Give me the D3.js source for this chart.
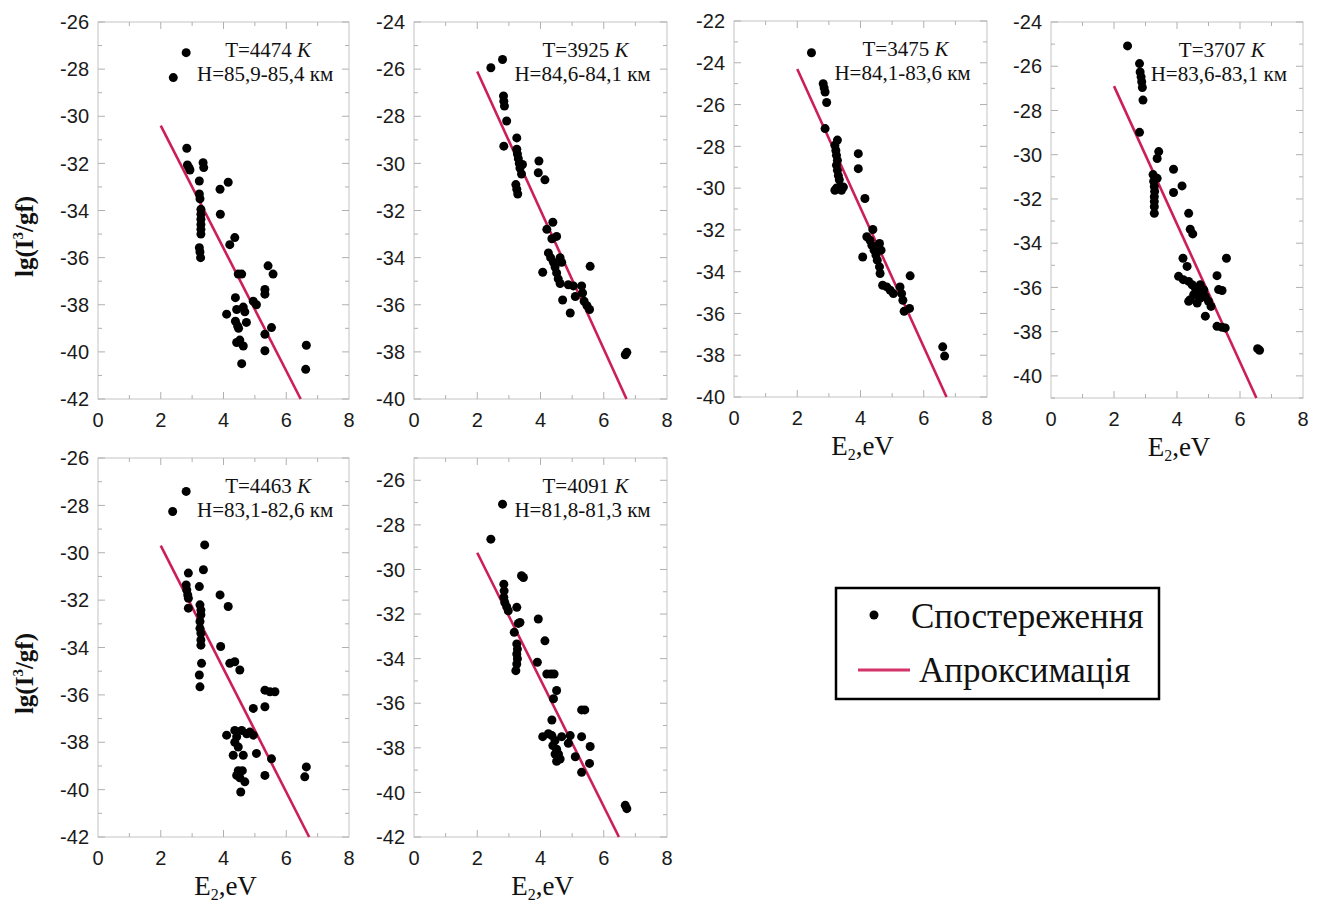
<!DOCTYPE html>
<html>
<head>
<meta charset="utf-8">
<script src="https://cdn.jsdelivr.net/npm/d3@7"></script>
<style>
  body { margin: 0; background: #fff; }
  svg { display: block; }
  .tick-label { font-family: "Liberation Sans", Arial, sans-serif; font-size: 20px; fill: #1a1a1a; }
  .note { font-family: "Liberation Serif", "Times New Roman", serif; font-size: 21px; fill: #111; }
  .title { font-family: "Liberation Serif", "Times New Roman", serif; fill: #111; }
</style>
</head>
<body>
<svg id="chart" width="1320" height="906"></svg>
<script>
// observations, [E2 (eV), lg(I^3/gf)]
var obs1 = [[2.81,-27.3],[2.40,-28.36],[2.83,-31.36],[2.85,-32.07],[2.9,-32.18],[2.93,-32.28],
  [3.23,-32.75],[3.23,-33.3],[3.25,-33.5],[3.28,-33.95],[3.28,-34.16],[3.28,-34.37],[3.28,-34.59],
  [3.28,-34.8],[3.28,-35.0],[3.23,-35.58],[3.25,-35.76],[3.27,-36.0],[3.35,-31.97],[3.37,-32.18],
  [3.89,-33.1],[4.15,-32.8],[3.9,-34.16],[4.2,-35.45],[4.36,-35.15],[4.47,-36.7],[4.58,-36.7],
  [4.1,-38.4],[4.38,-37.7],[4.42,-38.2],[4.38,-38.7],[4.45,-38.9],[4.48,-39.0],[4.63,-38.1],
  [4.68,-38.3],[4.73,-38.75],[4.52,-39.5],[4.63,-39.75],[4.42,-39.6],[4.58,-40.5],[4.95,-37.85],
  [5.05,-38.0],[5.32,-39.95],[5.32,-39.25],[5.32,-37.35],[5.32,-37.55],[5.53,-38.97],[5.42,-36.35],
  [5.58,-36.7],[6.64,-39.72],[6.62,-40.74]];
var obs2 = [[2.43,-25.94],[2.8,-25.59],[2.83,-27.14],[2.84,-27.36],[2.86,-27.57],[2.93,-28.2],
  [2.84,-29.27],[3.25,-28.92],[3.25,-29.4],[3.27,-29.6],[3.3,-29.8],[3.33,-30.0],[3.35,-30.2],
  [3.4,-30.45],[3.22,-30.9],[3.25,-31.1],[3.28,-31.3],[3.43,-30.05],[3.95,-29.9],[3.93,-30.4],
  [4.14,-30.7],[4.2,-32.8],[4.39,-32.5],[4.36,-33.2],[4.51,-33.1],[4.25,-33.8],[4.32,-34.0],
  [4.41,-34.2],[4.46,-34.4],[4.51,-34.65],[4.56,-34.9],[4.62,-35.1],[4.62,-34.0],[4.67,-34.2],
  [4.07,-34.62],[4.7,-35.8],[4.94,-36.35],[4.88,-35.15],[5.04,-35.2],[5.1,-35.65],[5.3,-35.2],
  [5.33,-35.5],[5.38,-35.85],[5.47,-36.04],[5.55,-36.2],[5.57,-34.37],[6.68,-38.12],[6.73,-38.02]];
var obs3 = [[2.45,-23.52],[2.82,-25.0],[2.85,-25.2],[2.88,-25.4],[2.93,-25.9],[2.88,-27.15],
  [3.27,-27.7],[3.19,-27.95],[3.22,-28.2],[3.24,-28.43],[3.27,-28.67],[3.24,-28.9],[3.27,-29.15],
  [3.3,-29.4],[3.33,-29.6],[3.35,-29.95],[3.4,-30.1],[3.19,-30.1],[3.24,-30.0],[3.46,-29.95],
  [3.93,-28.35],[3.93,-29.07],[4.14,-30.5],[4.07,-33.3],[4.2,-32.33],[4.39,-31.98],[4.3,-32.5],
  [4.36,-32.74],[4.43,-32.97],[4.49,-33.21],[4.53,-33.45],[4.6,-33.77],[4.62,-34.09],[4.6,-32.65],
  [4.65,-32.97],[4.7,-34.65],[4.83,-34.73],[4.94,-34.89],[5.04,-35.05],[5.25,-34.73],[5.3,-35.05],
  [5.34,-35.37],[5.38,-35.9],[5.55,-35.76],[5.57,-34.2],[6.6,-37.6],[6.66,-38.04]];
var obs4 = [[2.43,-25.08],[2.81,-25.88],[2.83,-26.26],[2.86,-26.48],[2.88,-26.7],[2.9,-26.96],
  [2.92,-27.53],[2.81,-28.99],[3.24,-30.9],[3.26,-31.2],[3.28,-31.44],[3.29,-31.66],[3.28,-31.9],
  [3.28,-32.12],[3.28,-32.35],[3.28,-32.65],[3.37,-31.07],[3.37,-30.17],[3.42,-29.86],[3.89,-30.66],
  [3.89,-31.71],[4.16,-31.41],[4.37,-32.65],[4.42,-33.37],[4.5,-33.58],[4.19,-34.68],[4.32,-35.05],
  [4.05,-35.5],[4.2,-35.65],[4.37,-35.73],[4.48,-35.88],[4.58,-36.03],[4.66,-36.26],[4.74,-36.48],
  [4.85,-36.11],[4.9,-36.41],[4.53,-36.33],[4.42,-36.56],[4.64,-36.71],[4.74,-35.88],[4.37,-36.63],
  [4.9,-37.3],[5.0,-36.63],[5.08,-36.86],[5.27,-35.47],[5.32,-36.1],[5.43,-36.14],[5.27,-37.76],
  [5.43,-37.8],[5.53,-37.83],[5.57,-34.68],[6.56,-38.77],[6.62,-38.84]];
var obs5 = [[2.38,-28.26],[2.81,-27.41],[2.88,-30.86],[2.81,-31.36],[2.83,-31.57],[2.86,-31.78],
  [2.88,-31.92],[2.88,-32.34],[3.23,-31.43],[3.25,-32.2],[3.28,-32.42],[3.28,-32.62],[3.25,-32.9],
  [3.25,-33.19],[3.28,-33.4],[3.28,-33.68],[3.28,-33.9],[3.3,-34.67],[3.23,-35.16],[3.25,-35.66],
  [3.36,-30.72],[3.4,-29.67],[3.89,-31.78],[4.15,-32.27],[3.91,-33.96],[4.2,-34.67],[4.36,-34.6],
  [4.52,-34.95],[4.95,-36.57],[5.32,-35.8],[5.48,-35.87],[5.64,-35.87],[5.32,-36.5],[4.1,-37.7],
  [4.36,-37.5],[4.42,-37.77],[4.36,-38.0],[4.47,-38.2],[4.31,-38.55],[4.58,-37.5],[4.74,-37.64],
  [4.84,-37.57],[4.95,-37.7],[4.63,-38.55],[5.05,-38.47],[5.53,-38.7],[4.47,-39.2],[4.6,-39.2],
  [4.52,-39.5],[4.42,-39.4],[4.68,-39.67],[4.55,-40.1],[5.32,-39.4],[6.59,-39.46],[6.64,-39.04]];
var obs6 = [[2.8,-27.07],[2.43,-28.64],[2.84,-30.66],[2.85,-30.96],[2.84,-31.25],[2.87,-31.48],
  [2.93,-31.67],[2.98,-31.85],[3.25,-31.7],[3.17,-32.82],[3.3,-32.42],[3.35,-32.38],[3.4,-30.28],
  [3.46,-30.36],[3.25,-33.34],[3.27,-33.57],[3.25,-33.79],[3.27,-34.0],[3.25,-34.24],[3.22,-34.54],
  [3.93,-32.22],[4.14,-33.2],[3.9,-34.16],[4.2,-34.69],[4.33,-34.69],[4.43,-34.69],[4.51,-35.43],
  [4.41,-35.8],[4.36,-36.75],[4.07,-37.5],[4.25,-37.37],[4.36,-37.45],[4.46,-37.67],[4.39,-37.9],
  [4.51,-38.06],[4.57,-38.28],[4.62,-38.5],[4.46,-38.28],[4.51,-38.6],[4.67,-37.5],[4.94,-37.45],
  [4.88,-37.8],[5.1,-38.4],[5.3,-37.5],[5.3,-39.1],[5.57,-37.94],[5.55,-38.7],[5.3,-36.3],
  [5.4,-36.3],[6.68,-40.58],[6.73,-40.73]];

// approximation lines, end points [E2, lg]
var fit1 = [[2, -30.4], [6.46, -42]];
var fit2 = [[2, -26.1], [6.72, -40]];
var fit3 = [[2, -24.3], [6.72, -40]];
var fit4 = [[2, -26.9], [6.52, -41]];
var fit5 = [[2, -29.7], [6.73, -42]];
var fit6 = [[2, -29.25], [6.48, -42]];

var temps = ['4474', '3925', '3475', '3707', '4463', '4091'];
var heights = ['85,9-85,4', '84,6-84,1', '84,1-83,6', '83,6-83,1', '83,1-82,6', '81,8-81,3'];
var yDomains = [[-42, -26], [-40, -24], [-40, -22], [-41, -24], [-42, -26], [-42, -25]];
var xTicks = [0, 2, 4, 6, 8];
var legendLabels = ['Спостереження', 'Апроксимація'];

var lineColor = '#cc1f58';
var svg = d3.select('#chart');

var boxes = [
  { x0: 98, x1: 349, y0: 22, y1: 399, ylab: true, xlab: false },
  { x0: 414, x1: 667, y0: 22, y1: 399, ylab: false, xlab: false },
  { x0: 734, x1: 987, y0: 21, y1: 397, ylab: false, xlab: true },
  { x0: 1051, x1: 1303, y0: 22, y1: 398, ylab: false, xlab: true },
  { x0: 98, x1: 349, y0: 458, y1: 837, ylab: true, xlab: true },
  { x0: 414, x1: 667, y0: 458, y1: 837, ylab: false, xlab: true }
];
var observations = [obs1, obs2, obs3, obs4, obs5, obs6];
var fits = [fit1, fit2, fit3, fit4, fit5, fit6];

boxes.forEach(function(b, i) {
  var x = d3.scaleLinear().domain([0, 8]).range([b.x0, b.x1]),
      y = d3.scaleLinear().domain(yDomains[i]).range([b.y1, b.y0]),
      g = svg.append('g'),
      yMajor = d3.range(Math.ceil(yDomains[i][0] / 2) * 2, yDomains[i][1] + 0.01, 2),
      yMinor = d3.range(yDomains[i][0], yDomains[i][1] + 0.01, 1);

  g.append('rect')
    .attr('x', b.x0).attr('y', b.y0)
    .attr('width', b.x1 - b.x0).attr('height', b.y1 - b.y0)
    .attr('fill', 'none').attr('stroke', '#c4c4c4').attr('stroke-width', 1);

  // inside ticks on all four sides
  var ticks = g.append('g').attr('stroke', '#b0b0b0').attr('stroke-width', 1);
  d3.range(1, 8).forEach(function(v) {
    var len = v % 2 === 0 ? 7 : 4;
    ticks.append('line').attr('x1', x(v)).attr('x2', x(v)).attr('y1', b.y1).attr('y2', b.y1 - len);
    ticks.append('line').attr('x1', x(v)).attr('x2', x(v)).attr('y1', b.y0).attr('y2', b.y0 + len);
  });
  yMinor.forEach(function(v) {
    var len = yMajor.indexOf(v) >= 0 ? 7 : 4;
    ticks.append('line').attr('x1', b.x0).attr('x2', b.x0 + len).attr('y1', y(v)).attr('y2', y(v));
    ticks.append('line').attr('x1', b.x1).attr('x2', b.x1 - len).attr('y1', y(v)).attr('y2', y(v));
  });

  g.selectAll('.ylab').data(yMajor).enter().append('text')
    .attr('class', 'tick-label')
    .attr('x', b.x0 - 9).attr('y', function(d) { return y(d); })
    .attr('dy', '0.36em').attr('text-anchor', 'end')
    .text(function(d) { return d; });

  g.selectAll('.xlab').data(xTicks).enter().append('text')
    .attr('class', 'tick-label')
    .attr('x', function(d) { return x(d); }).attr('y', b.y1 + 28)
    .attr('text-anchor', 'middle')
    .text(function(d) { return d; });

  g.append('path')
    .datum(fits[i])
    .attr('d', d3.line().x(function(d) { return x(d[0]); }).y(function(d) { return y(d[1]); }))
    .attr('stroke', lineColor).attr('stroke-width', 2.6).attr('fill', 'none');

  g.selectAll('circle').data(observations[i]).enter().append('circle')
    .attr('cx', function(d) { return x(d[0]); })
    .attr('cy', function(d) { return y(d[1]); })
    .attr('r', 4.5).attr('fill', '#000');

  var cx = b.x0 + 0.67 * (b.x1 - b.x0);
  var t = g.append('text').attr('class', 'note').attr('x', cx + 2).attr('y', b.y0 + 35).attr('text-anchor', 'middle');
  t.append('tspan').text('T=' + temps[i] + ' ');
  t.append('tspan').attr('font-style', 'italic').text('K');
  g.append('text').attr('class', 'note').attr('x', cx - 1).attr('y', b.y0 + 59)
    .attr('text-anchor', 'middle').attr('font-size', 22).text('H=' + heights[i] + ' км');

  if (b.ylab) {
    var yl = g.append('text').attr('class', 'title')
      .attr('transform', 'translate(33,' + y(-35.1) + ') rotate(-90)')
      .attr('text-anchor', 'middle').attr('font-size', 25).attr('font-weight', 'bold');
    yl.append('tspan').text('lg(I');
    yl.append('tspan').attr('font-size', 15).attr('dy', -10).text('3');
    yl.append('tspan').attr('dy', 10).text('/gf)');
  }
  if (b.xlab) {
    var xl = g.append('text').attr('class', 'title')
      .attr('x', (b.x0 + b.x1) / 2 + 2).attr('y', b.y1 + 58)
      .attr('text-anchor', 'middle').attr('font-size', 27);
    xl.append('tspan').text('E');
    xl.append('tspan').attr('font-size', 16).attr('dy', 5).text('2');
    xl.append('tspan').attr('dy', -5).text(',eV');
  }
});

// legend
var lg = svg.append('g');
lg.append('rect').attr('x', 836).attr('y', 588).attr('width', 323).attr('height', 111)
  .attr('fill', '#fff').attr('stroke', '#000').attr('stroke-width', 2.5);
lg.append('circle').attr('cx', 874).attr('cy', 615).attr('r', 4.5).attr('fill', '#000');
lg.append('line').attr('x1', 858).attr('x2', 910).attr('y1', 670).attr('y2', 670)
  .attr('stroke', '#d4336b').attr('stroke-width', 3);
lg.selectAll('.leg').data(legendLabels).enter().append('text')
  .attr('class', 'title').attr('font-size', 35)
  .attr('x', function(d, i) { return i === 0 ? 911 : 919; })
  .attr('y', function(d, i) { return i === 0 ? 628 : 682; })
  .text(function(d) { return d; });
</script>
</body>
</html>
